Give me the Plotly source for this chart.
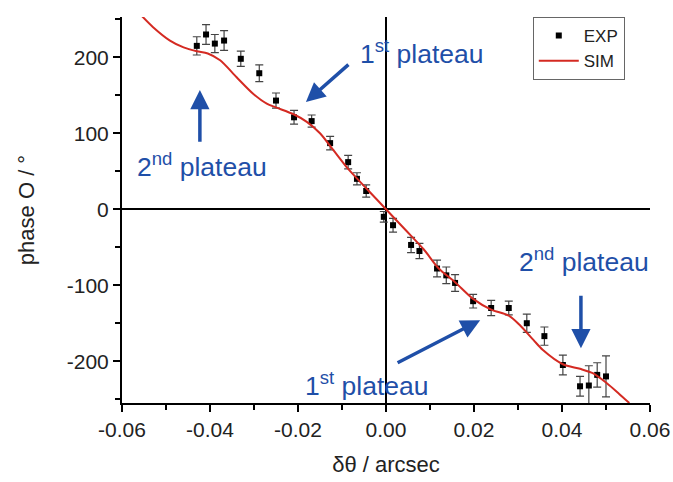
import plotly.graph_objects as go

# ---- data ----
exp_x = [-0.0430, -0.0409, -0.0389, -0.0368, -0.0330, -0.0288, -0.0250, -0.0209,
         -0.0169, -0.0127, -0.0086, -0.0066, -0.0045, -0.0005, 0.0016, 0.0057,
         0.0076, 0.0116, 0.0137, 0.0157, 0.0198, 0.0239, 0.0279, 0.0320,
         0.0360, 0.0402, 0.0441, 0.0461, 0.0480, 0.0500]
exp_y = [215, 230, 218, 222, 198, 179, 143, 121,
         116, 87, 62, 40, 24, -10, -21, -47,
         -55, -78, -87, -97, -121, -130, -130, -150,
         -167, -205, -233, -232, -218, -220]
exp_err = [12, 13, 12, 13, 10, 11, 10, 9,
           8, 9, 9, 8, 8, 7, 9, 10,
           10, 11, 11, 11, 9, 10, 9, 12,
           12, 13, 13, 26, 16, 27]

sim_x = [-0.0556, -0.0530, -0.0491, -0.0460, -0.0430, -0.0405, -0.0377, -0.0340,
         -0.0302, -0.0271, -0.0250, -0.0210, -0.0180, -0.0150, -0.0120, -0.0086,
         -0.0044, 0.0, 0.0044, 0.0086, 0.0120, 0.0157, 0.0198, 0.0239,
         0.0279, 0.0305, 0.0335, 0.0356, 0.0402, 0.0441, 0.0471, 0.0502,
         0.0530, 0.0553]
sim_y = [255, 240, 222, 213, 208, 205, 196, 174,
         152, 139, 134, 125, 115, 100, 78, 53,
         27, 0, -27, -53, -78, -96, -118, -132,
         -140, -153, -172, -185, -204, -210, -216, -229,
         -243, -255]

x_tickvals = [-0.06, -0.04, -0.02, 0.0, 0.02, 0.04, 0.06]
x_ticktext = ["-0.06", "-0.04", "-0.02", "0.00", "0.02", "0.04", "0.06"]
y_tickvals = [-200, -100, 0, 100, 200]
y_ticktext = ["-200", "-100", "0", "100", "200"]

FONT = "Liberation Sans, Arial, sans-serif"
BLUE = "#1f4fa8"

fig = go.Figure()
fig.add_trace(go.Scatter(
    x=exp_x, y=exp_y, mode="markers", name="EXP",
    marker=dict(symbol="square", size=6, color="black"),
    error_y=dict(type="data", array=exp_err, visible=True,
                 color="#444", thickness=1.2, width=4),
))
fig.add_trace(go.Scatter(
    x=sim_x, y=sim_y, mode="lines", name="SIM",
    line=dict(color="#d42a22", width=2, shape="spline", smoothing=0.8),
))

# text labels
labels = [
    ("1<sup>st</sup> plateau", 0.0080, 207),
    ("2<sup>nd</sup> plateau", -0.0418, 58),
    ("2<sup>nd</sup> plateau", 0.0450, -67),
    ("1<sup>st</sup> plateau", -0.0045, -230),
]
for t, x, y in labels:
    fig.add_annotation(x=x, y=y, xref="x", yref="y", text=t, showarrow=False,
                       font=dict(family=FONT, size=26.5, color=BLUE))

# arrows (tail -> head)
arrows = [
    ((-0.0082, 192), (-0.0182, 141)),
    ((-0.0423, 87), (-0.0423, 157)),
    ((0.0023, -203), (0.0214, -146)),
    ((0.0443, -112), (0.0443, -183)),
]
for (tx, ty), (hx, hy) in arrows:
    fig.add_annotation(x=hx, y=hy, ax=tx, ay=ty, xref="x", yref="y",
                       axref="x", ayref="y", text="", showarrow=True,
                       arrowhead=2, arrowsize=1.1, arrowwidth=3.5,
                       arrowcolor=BLUE)

fig.update_layout(
    width=673, height=482,
    margin=dict(l=122, r=23, t=17, b=79),
    plot_bgcolor="white", paper_bgcolor="white",
    font=dict(family=FONT, color="#222"),
    showlegend=True,
    legend=dict(x=0.778, y=1.0, xanchor="left", yanchor="top",
                bgcolor="white", bordercolor="#666", borderwidth=1,
                font=dict(family=FONT, size=17, color="#222"),
                tracegroupgap=0, itemwidth=40),
)
fig.update_xaxes(
    range=[-0.06, 0.06], tickmode="array", tickvals=x_tickvals,
    ticktext=x_ticktext, showgrid=False, automargin=False,
    showline=True, linecolor="black", linewidth=2, mirror=False,
    ticks="outside", ticklen=7, tickwidth=1.5, tickcolor="black",
    minor=dict(tickmode="linear", tick0=0, dtick=0.01, ticks="outside",
               ticklen=5, tickwidth=1.5, tickcolor="black", showgrid=False),
    zeroline=True, zerolinecolor="black", zerolinewidth=2,
    tickfont=dict(family=FONT, size=21, color="#222"),
    title=dict(text="δθ / arcsec", font=dict(family=FONT, size=22, color="#222"),
               standoff=16),
)
fig.update_yaxes(
    range=[-255, 253], tickmode="array", tickvals=y_tickvals,
    ticktext=y_ticktext, showgrid=False, automargin=False,
    showline=True, linecolor="black", linewidth=2, mirror=False,
    ticks="outside", ticklen=7, tickwidth=1.5, tickcolor="black",
    minor=dict(tickmode="linear", tick0=0, dtick=50, ticks="outside",
               ticklen=5, tickwidth=1.5, tickcolor="black", showgrid=False),
    zeroline=True, zerolinecolor="black", zerolinewidth=2,
    tickfont=dict(family=FONT, size=21, color="#222"),
    title=dict(text="phase O / °", font=dict(family=FONT, size=22, color="#222"),
               standoff=26),
)

fig.write_html("out.html")
